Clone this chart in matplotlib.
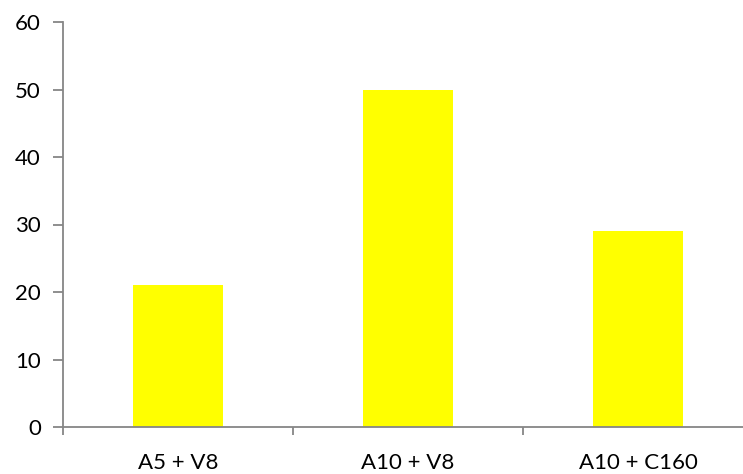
import matplotlib
matplotlib.use("Agg")
import matplotlib.pyplot as plt

categories = ["A5 + V8", "A10 + V8", "A10 + C160"]
values = [21, 50, 29]
yticks = [0, 10, 20, 30, 40, 50, 60]

plt.rcParams['font.family'] = ['Lato', 'DejaVu Sans']

fig = plt.figure(figsize=(7.43, 4.74), dpi=100)
ax = fig.add_axes([63/743, 47/474, 690/743, 405/474])

x = list(range(len(categories)))
ax.bar(x, values, width=0.395, color="#FFFF00", zorder=2)

ax.set_xlim(-0.5, len(categories) - 0.5)
ax.set_ylim(0, 60)
ax.set_yticks(yticks)
ax.set_yticklabels([str(t) for t in yticks], fontsize=16)

ax.set_xticks([i - 0.5 for i in range(len(categories) + 1)])
ax.set_xticklabels([])
ax.set_xticks(x, minor=True)
ax.set_xticklabels(categories, minor=True, fontsize=16)
ax.tick_params(axis='x', which='minor', length=0, pad=19)
ax.tick_params(axis='x', which='major', length=6, width=1.3, color="#868686", direction='out')
ax.tick_params(axis='y', length=7, width=1.3, color="#868686", pad=9)

for s in ['top', 'right']:
    ax.spines[s].set_visible(False)
for s in ['left', 'bottom']:
    ax.spines[s].set_color("#868686")
    ax.spines[s].set_linewidth(1.3)

fig.savefig("out.png", dpi=100)
